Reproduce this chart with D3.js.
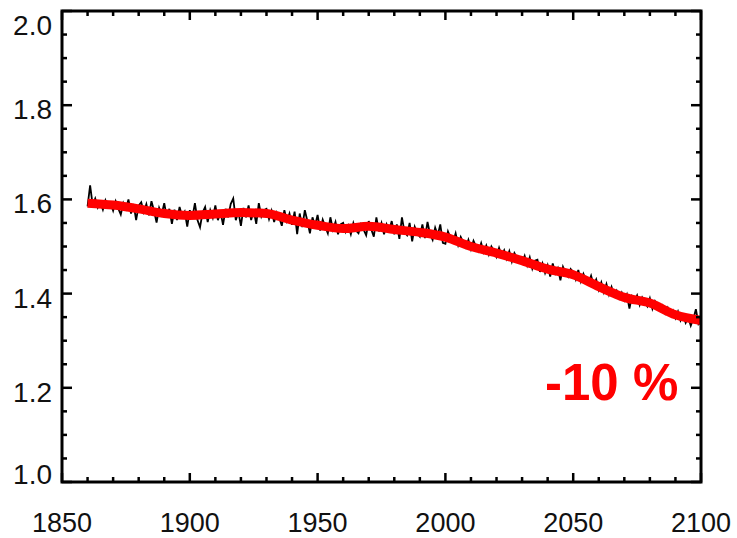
<!DOCTYPE html>
<html>
<head>
<meta charset="utf-8">
<script src="https://cdn.jsdelivr.net/npm/d3@7"></script>
<style>
  body { margin: 0; background: #fff; }
  text { font-family: "Liberation Sans", Arial, sans-serif; }
</style>
</head>
<body>
<div id="chart"></div>
<script>
// annual values 1860-2100 (black line)
const years = d3.range(1860, 2101);
const annual = [
  1.585, 1.630, 1.588, 1.602, 1.583, 1.594, 1.578, 1.598, 1.584, 1.592,
  1.576, 1.596, 1.581, 1.568, 1.592, 1.580, 1.600, 1.570, 1.590, 1.556,
  1.587, 1.594, 1.573, 1.590, 1.566, 1.596, 1.576, 1.551, 1.582, 1.568,
  1.592, 1.562, 1.580, 1.548, 1.578, 1.556, 1.584, 1.564, 1.574, 1.542,
  1.577, 1.561, 1.592, 1.556, 1.541, 1.572, 1.584, 1.552, 1.577, 1.561,
  1.587, 1.556, 1.574, 1.546, 1.580, 1.562, 1.590, 1.602, 1.556, 1.574,
  1.544, 1.582, 1.562, 1.587, 1.556, 1.576, 1.548, 1.592, 1.564, 1.577,
  1.580, 1.558, 1.576, 1.552, 1.572, 1.561, 1.544, 1.577, 1.554, 1.570,
  1.546, 1.574, 1.526, 1.570, 1.541, 1.577, 1.554, 1.528, 1.562, 1.544,
  1.567, 1.534, 1.557, 1.542, 1.528, 1.562, 1.536, 1.552, 1.526, 1.547,
  1.550, 1.531, 1.544, 1.526, 1.550, 1.534, 1.528, 1.547, 1.536, 1.524,
  1.554, 1.536, 1.521, 1.562, 1.532, 1.550, 1.526, 1.547, 1.534, 1.554,
  1.526, 1.547, 1.516, 1.562, 1.531, 1.524, 1.550, 1.511, 1.542, 1.528,
  1.521, 1.547, 1.518, 1.552, 1.526, 1.514, 1.540, 1.524, 1.547, 1.508,
  1.506, 1.532, 1.518, 1.510, 1.528, 1.503, 1.520, 1.508, 1.498, 1.514,
  1.494, 1.512, 1.500, 1.490, 1.507, 1.488, 1.502, 1.483, 1.500, 1.490,
  1.478, 1.497, 1.480, 1.492, 1.474, 1.490, 1.468, 1.486, 1.476, 1.470,
  1.466, 1.480, 1.460, 1.477, 1.453, 1.470, 1.472, 1.446, 1.464, 1.444,
  1.460, 1.436, 1.464, 1.443, 1.454, 1.428, 1.457, 1.444, 1.436, 1.452,
  1.446, 1.430, 1.450, 1.426, 1.442, 1.428, 1.423, 1.438, 1.418, 1.430,
  1.408, 1.424, 1.403, 1.420, 1.398, 1.414, 1.396, 1.406, 1.390, 1.402,
  1.386, 1.398, 1.368, 1.394, 1.384, 1.396, 1.376, 1.392, 1.382, 1.373,
  1.390, 1.368, 1.384, 1.374, 1.364, 1.374, 1.358, 1.370, 1.356, 1.364,
  1.348, 1.362, 1.343, 1.354, 1.338, 1.350, 1.332, 1.346, 1.367, 1.336,
  1.345
];

// smoothed values (red line), every 10 years
const smoothYears = d3.range(1860, 2101, 10);
const smooth = [1.592, 1.588, 1.580, 1.570, 1.566, 1.569, 1.572, 1.570, 1.556, 1.545,
  1.538, 1.543, 1.536, 1.530, 1.520, 1.500, 1.486, 1.470, 1.452, 1.440,
  1.415, 1.392, 1.380, 1.355, 1.343];

const yTicks = [1.0, 1.2, 1.4, 1.6, 1.8, 2.0];
const xTicks = [1850, 1900, 1950, 2000, 2050, 2100];
const note = "-10 %";

const W = 737, H = 538;
const box = { left: 62, right: 701, top: 11, bottom: 482 };

const svg = d3.select("#chart").append("svg")
  .attr("width", W)
  .attr("height", H);

const x = d3.scaleLinear().domain([1850, 2100]).range([box.left, box.right]);
const y = d3.scaleLinear().domain([1.0, 2.0]).range([box.bottom, box.top]);

// black annual line
svg.append("path")
  .datum(years.map((yr, i) => [yr, annual[i]]))
  .attr("fill", "none")
  .attr("stroke", "#000")
  .attr("stroke-width", 1.8)
  .attr("d", d3.line().x(d => x(d[0])).y(d => y(d[1])));

// red smooth line
svg.append("path")
  .datum(smoothYears.map((yr, i) => [yr, smooth[i]]))
  .attr("fill", "none")
  .attr("stroke", "#ff0000")
  .attr("stroke-width", 9)
  .attr("stroke-linejoin", "round")
  .attr("d", d3.line().curve(d3.curveMonotoneX).x(d => x(d[0])).y(d => y(d[1])));

// ticks, all pointing inward
const minorX = d3.range(1850, 2101, 10);
const minorY = d3.range(1.0, 2.001, 0.05);
const tickG = svg.append("g").attr("stroke", "#000").attr("stroke-width", 2.5);

minorX.forEach(v => {
  const len = v % 50 === 0 ? 9 : 5;
  tickG.append("line").attr("x1", x(v)).attr("x2", x(v)).attr("y1", box.bottom).attr("y2", box.bottom - len);
  tickG.append("line").attr("x1", x(v)).attr("x2", x(v)).attr("y1", box.top).attr("y2", box.top + len);
});
minorY.forEach(v => {
  const major = Math.abs(Math.round(v * 5) - v * 5) < 1e-6;
  const len = major ? 10 : 5;
  tickG.append("line").attr("y1", y(v)).attr("y2", y(v)).attr("x1", box.left).attr("x2", box.left + len);
  tickG.append("line").attr("y1", y(v)).attr("y2", y(v)).attr("x1", box.right).attr("x2", box.right - len);
});

// frame
svg.append("rect")
  .attr("x", box.left).attr("y", box.top)
  .attr("width", box.right - box.left).attr("height", box.bottom - box.top)
  .attr("fill", "none")
  .attr("stroke", "#000")
  .attr("stroke-width", 3);

// y labels (clamped inside the frame at the ends)
svg.append("g").selectAll("text")
  .data(yTicks)
  .join("text")
  .attr("x", 52)
  .attr("y", d => Math.min(Math.max(y(d), 21), 470))
  .attr("dy", "0.5em")
  .attr("text-anchor", "end")
  .attr("font-size", 28)
  .attr("fill", "#111")
  .text(d => d.toFixed(1));

// x labels
svg.append("g").selectAll("text")
  .data(xTicks)
  .join("text")
  .attr("x", d => x(d))
  .attr("y", 532)
  .attr("text-anchor", "middle")
  .attr("font-size", 27)
  .attr("fill", "#111")
  .text(d => d);

svg.append("text")
  .attr("x", 545)
  .attr("y", 400)
  .attr("font-size", 51)
  .attr("font-weight", "bold")
  .attr("fill", "#ff0000")
  .text(note);
</script>
</body>
</html>
